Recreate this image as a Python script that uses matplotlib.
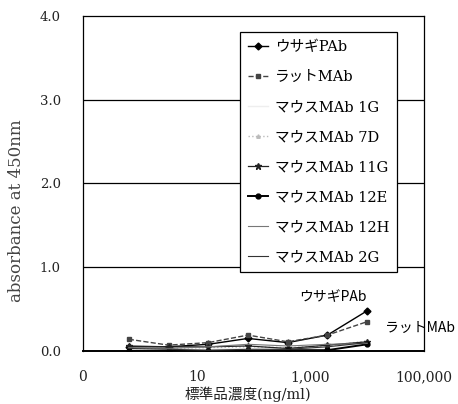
import numpy as np
import matplotlib
matplotlib.use("Agg")
import matplotlib.pyplot as plt
from matplotlib.ticker import FixedLocator, FixedFormatter, NullLocator

# standard concentrations (ng/ml), 5-fold dilution series
conc = [0.64, 3.2, 16, 80, 400, 2000, 10000]

# absorbance at 450 nm for each antibody
rabbit_pab = [0.05, 0.05, 0.08, 0.15, 0.10, 0.19, 0.48]
rat_mab = [0.14, 0.07, 0.10, 0.19, 0.11, 0.19, 0.35]
mouse_1g = [0.02, 0.02, 0.02, 0.03, 0.02, 0.04, 0.10]
mouse_7d = [0.03, 0.03, 0.04, 0.05, 0.04, 0.06, 0.12]
mouse_11g = [0.06, 0.05, 0.05, 0.06, 0.03, 0.07, 0.11]
mouse_12e = [0.00, 0.00, 0.00, 0.00, 0.01, 0.01, 0.08]
mouse_12h = [0.04, 0.03, 0.05, 0.08, 0.06, 0.08, 0.09]
mouse_2g = [0.03, 0.02, 0.01, 0.02, 0.02, 0.05, 0.10]

labels = ["ウサギPAb", "ラットMAb", "マウスMAb 1G", "マウスMAb 7D",
          "マウスMAb 11G", "マウスMAb 12E", "マウスMAb 12H", "マウスMAb 2G"]

xticks = [0.1, 10, 1000, 100000]
xticklabels = ["0", "10", "1,000", "100,000"]
yticks = [0.0, 1.0, 2.0, 3.0, 4.0]

serif = ["DejaVu Serif", "Noto Sans CJK JP"]
gothic = ["Noto Sans CJK JP", "DejaVu Sans"]

fig = plt.figure(figsize=(4.58, 4.04), dpi=100)
ax = fig.add_axes([0.1812, 0.1312, 0.7445, 0.8292])

for y in [1.0, 2.0, 3.0]:
    ax.axhline(y, color="black", lw=0.9, zorder=1)

styles = [
    dict(color="black", ls="-", marker="D", ms=3.5, lw=1.0),
    dict(color="#444444", ls="--", marker="s", ms=2.8, lw=1.0),
    dict(color="#eeeeee", ls="-", marker=None, lw=1.0),
    dict(color="#bbbbbb", ls=":", marker="^", ms=2.5, lw=1.0),
    dict(color="#222222", ls="-", marker="*", ms=4.5, lw=0.9),
    dict(color="black", ls="-", marker="o", ms=3.5, lw=1.4),
    dict(color="#777777", ls="-", marker=None, lw=0.8),
    dict(color="#333333", ls="-", marker=None, lw=0.8),
]
series = [rabbit_pab, rat_mab, mouse_1g, mouse_7d, mouse_11g,
          mouse_12e, mouse_12h, mouse_2g]

for vals, lab, st in zip(series, labels, styles):
    ax.plot(conc, vals, label=lab, zorder=3, **st)

ax.set_xscale("log")
ax.set_xlim(0.1, 100000)
ax.set_ylim(0, 4.0)
ax.xaxis.set_major_locator(FixedLocator(xticks))
ax.xaxis.set_major_formatter(FixedFormatter(xticklabels))
ax.xaxis.set_minor_locator(NullLocator())
ax.set_yticks(yticks)
ax.set_yticklabels([f"{v:.1f}" for v in yticks])
ax.tick_params(axis="both", length=0, labelsize=9.5)
ax.tick_params(axis="x", labelsize=10, pad=14)
ax.tick_params(axis="y", pad=16)
for lbl in ax.get_xticklabels() + ax.get_yticklabels():
    lbl.set_fontfamily("DejaVu Serif")
    lbl.set_color("#222222")

for sp in ax.spines.values():
    sp.set_color("black")
    sp.set_linewidth(0.9)
ax.spines["bottom"].set_linewidth(1.4)

ax.set_ylabel("absorbance at 450nm", family="DejaVu Serif", fontsize=12,
              color="#444444", va="center")
ax.yaxis.set_label_coords(-0.196, 0.42)
ax.set_xlabel("標準品濃度(ng/ml)", family=serif, fontsize=10.5,
              color="#222222", va="center")
ax.xaxis.set_label_coords(0.484, -0.13)

# curve labels
ax.text(conc[-1], rabbit_pab[-1] + 0.08, "ウサギPAb", family=gothic,
        fontsize=10, ha="right", va="bottom")
ax.text(conc[-1] * 2.07, 0.27, "ラットMAb", family=gothic,
        fontsize=10, ha="left", va="center", clip_on=False)

leg = ax.legend(loc="upper left", bbox_to_anchor=(0.46, 0.952),
                prop={"family": serif, "size": 10.5}, frameon=True,
                fancybox=False, edgecolor="black", framealpha=1,
                handlelength=1.4, handletextpad=0.45, labelspacing=1.1,
                borderpad=0.55, borderaxespad=0)
leg.get_frame().set_linewidth(0.9)
leg.set_zorder(2)

fig.savefig("out.png", dpi=100)
